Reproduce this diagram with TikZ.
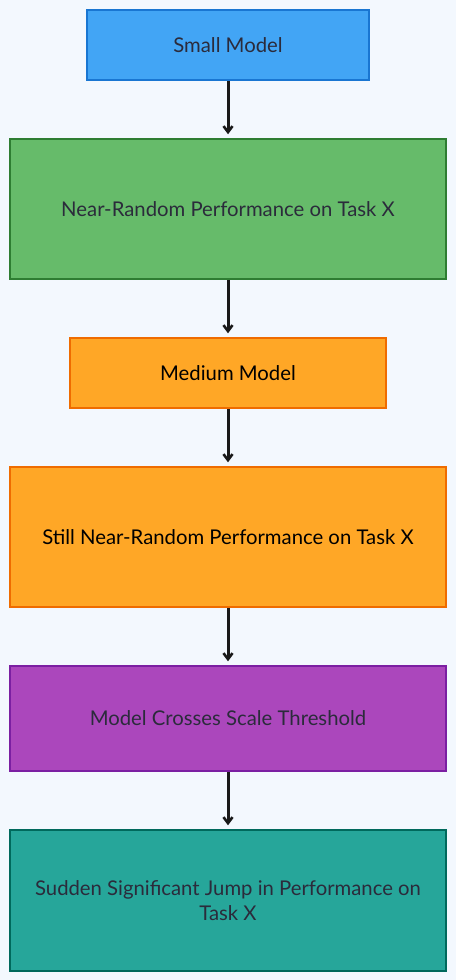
\documentclass[tikz,border=0pt]{standalone}
\usepackage{fontspec}
\setmainfont{Lato}
\usetikzlibrary{arrows.meta}
\definecolor{bg}{HTML}{F3F8FE}
\definecolor{txt}{HTML}{2B2B3B}
\definecolor{blueF}{HTML}{42A5F5}\definecolor{blueD}{HTML}{1976D2}
\definecolor{greenF}{HTML}{66BB6A}\definecolor{greenD}{HTML}{2E7D32}
\definecolor{orangeF}{HTML}{FFA726}\definecolor{orangeD}{HTML}{EF6C00}
\definecolor{purpleF}{HTML}{AB47BC}\definecolor{purpleD}{HTML}{7B1FA2}
\definecolor{tealF}{HTML}{26A69A}\definecolor{tealD}{HTML}{00695C}
\tikzset{
  box/.style={draw, line width=1.5pt, rectangle, inner sep=0pt, text=txt, font=\fontsize{20.3}{25}\selectfont, align=center},
  conn/.style={draw=black!90, line width=3pt, -{Straight Barb[length=6pt,width=9pt,line width=2.6pt]}, shorten >=4pt}
}
\begin{document}
\begin{tikzpicture}[x=1pt,y=-1pt]
\fill[bg] (0,0) rectangle (456,980);
\useasboundingbox (0,0) rectangle (456,980);
\node[box, fill=blueF, draw=blueD, minimum width=282pt, minimum height=70pt] (a) at (228,45) {Small Model};
\node[box, fill=greenF, draw=greenD, minimum width=436pt, minimum height=140pt] (b) at (228,209) {Near-Random Performance on Task X};
\node[box, fill=orangeF, draw=orangeD, text=black, minimum width=316pt, minimum height=70pt] (c) at (228,373) {Medium Model};
\node[box, fill=orangeF, draw=orangeD, text=black, minimum width=436pt, minimum height=140pt] (d) at (228,537) {Still Near-Random Performance on Task X};
\node[box, fill=purpleF, draw=purpleD, minimum width=436pt, minimum height=105pt] (e) at (228,718.5) {Model Crosses Scale Threshold};
\node[box, fill=tealF, draw=tealD, minimum width=436pt, minimum height=141pt] (f) at (228,900.5) {Sudden Significant Jump in Performance on\\Task X};
\draw[conn] (a) -- (b);
\draw[conn] (b) -- (c);
\draw[conn] (c) -- (d);
\draw[conn] (d) -- (e);
\draw[conn] (e) -- (f);
\end{tikzpicture}
\end{document}
